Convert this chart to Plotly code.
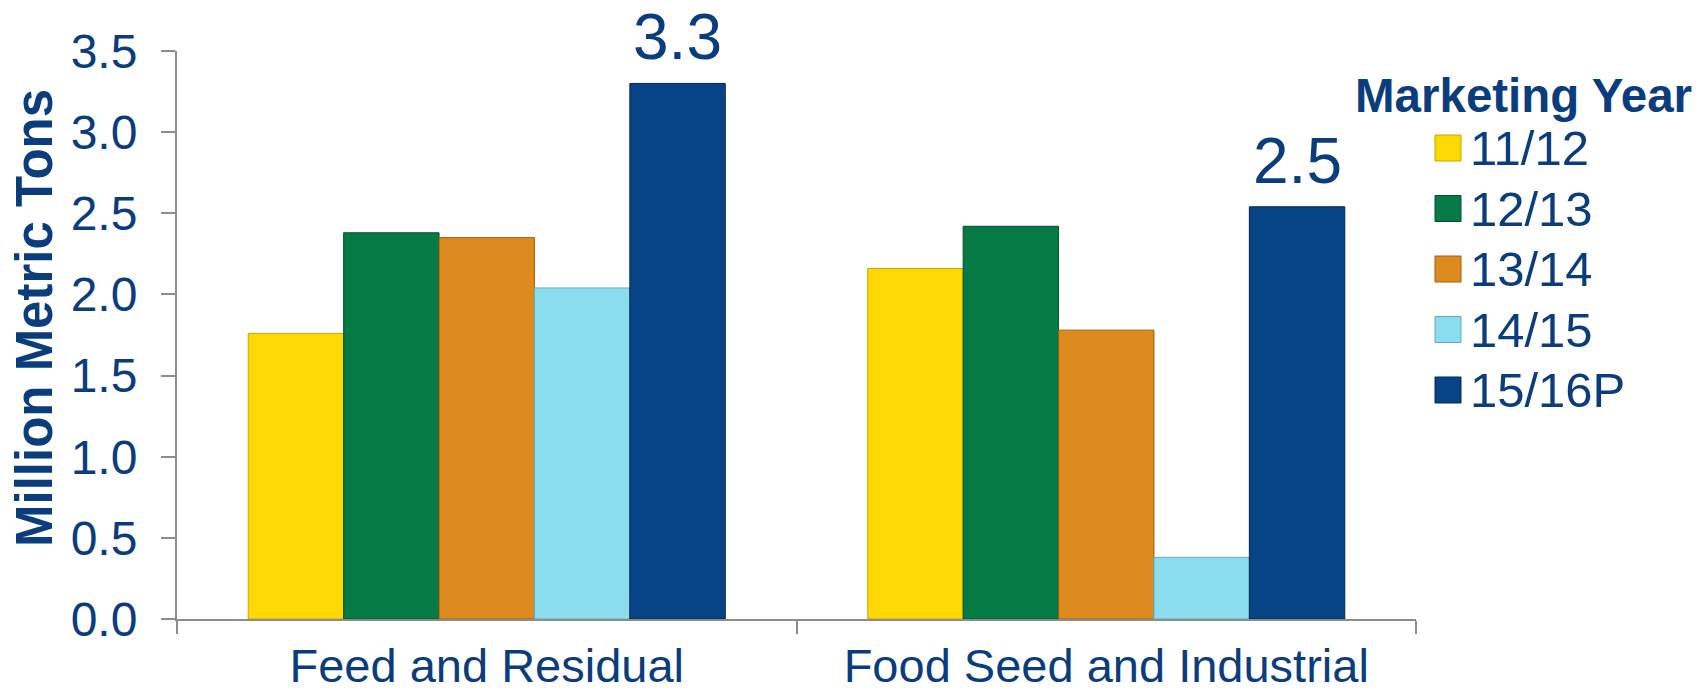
import plotly.graph_objects as go

categories = ["Feed and Residual", "Food Seed and Industrial"]
years = ["11/12", "12/13", "13/14", "14/15", "15/16P"]
values = {
    "11/12": [1.76, 2.16],
    "12/13": [2.38, 2.42],
    "13/14": [2.35, 1.78],
    "14/15": [2.04, 0.38],
    "15/16P": [3.30, 2.54],
}
labelled_year = "15/16P"
data_labels = ["3.3", "2.5"]
colors = ["#FDD802", "#067A44", "#DD8A1E", "#8ADCEE", "#064485"]
edge_colors = ["#C9A800", "#04502C", "#9A5E10", "#5FAFC0", "#02264C"]
y_ticks = [0, 0.5, 1.0, 1.5, 2.0, 2.5, 3.0, 3.5]
y_tick_labels = ["0.0", "0.5", "1.0", "1.5", "2.0", "2.5", "3.0", "3.5"]

NAVY = "#0B3D7D"
FONT = "Liberation Sans, Arial, sans-serif"
W, H = 1700, 694
ML, MR, MT, MB = 177, 284, 51, 75
PW, PH = W - ML - MR, H - MT - MB
BARGAP = 0.23

fig = go.Figure()
for i, yr in enumerate(years):
    fig.add_trace(go.Bar(
        x=categories, y=values[yr], name=yr,
        marker=dict(color=colors[i], line=dict(color=edge_colors[i], width=1)),
        cliponaxis=False, showlegend=False,
    ))

def px_x(px):
    return (px - ML) / PW

def px_y(py):
    return (H - MB - py) / PH

shapes = []
annotations = []

# data labels above the 15/16P bars
bar_w = PW / len(categories) * (1 - BARGAP) / len(years)
k = years.index(labelled_year)
offset = (k - (len(years) - 1) / 2) * bar_w
for cat, val, lab in zip(categories, values[labelled_year], data_labels):
    annotations.append(dict(
        text=lab, xref="x", yref="y", x=cat, y=val,
        xshift=offset, yshift=46, xanchor="center", yanchor="middle",
        showarrow=False, font=dict(size=64, color=NAVY, family=FONT)))

# custom legend
annotations.append(dict(
    text="<b>Marketing Year</b>", xref="paper", yref="paper",
    x=px_x(1523), y=px_y(95), xanchor="center", yanchor="middle",
    showarrow=False, font=dict(size=47.5, color=NAVY, family=FONT)))
for i, yr in enumerate(years):
    cy = 148 + 60.5 * i
    shapes.append(dict(
        type="rect", xref="paper", yref="paper",
        x0=px_x(1435), x1=px_x(1461), y0=px_y(cy + 13), y1=px_y(cy - 13),
        fillcolor=colors[i], line=dict(color=edge_colors[i], width=1)))
    annotations.append(dict(
        text=yr, xref="paper", yref="paper",
        x=px_x(1468), y=px_y(cy), xanchor="left", yanchor="middle",
        showarrow=False, font=dict(size=49, color=NAVY, family=FONT)))
# y-axis title
annotations.append(dict(
    text="<b>Million Metric Tons</b>", xref="paper", yref="paper",
    x=0, xshift=-143, y=px_y(318), xanchor="center", yanchor="middle",
    textangle=-90, showarrow=False,
    font=dict(size=51, color=NAVY, family=FONT)))

fig.update_layout(
    width=W, height=H,
    margin=dict(l=ML, r=MR, t=MT, b=MB, pad=0, autoexpand=False),
    paper_bgcolor="white", plot_bgcolor="white",
    barmode="group", bargap=BARGAP, bargroupgap=0,
    font=dict(family=FONT, color=NAVY),
    shapes=shapes, annotations=annotations,
    showlegend=False,
)
fig.update_xaxes(
    automargin=False,
    showline=True, linecolor="#8C8C8C", linewidth=2,
    ticks="outside", tickson="boundaries", ticklen=13, tickcolor="#8C8C8C", tickwidth=2,
    tickfont=dict(size=47, color=NAVY, family=FONT), ticklabelstandoff=5,
    showgrid=False, zeroline=False,
)
fig.update_yaxes(
    automargin=False,
    range=[0, 3.5], tickvals=y_ticks, ticktext=y_tick_labels,
    showline=True, linecolor="#8C8C8C", linewidth=2,
    ticks="outside", ticklen=14, tickcolor="#8C8C8C", tickwidth=2,
    tickfont=dict(size=48, color=NAVY, family=FONT), ticklabelstandoff=14,
    showgrid=False, zeroline=False,
)

fig.write_html("out.html")
